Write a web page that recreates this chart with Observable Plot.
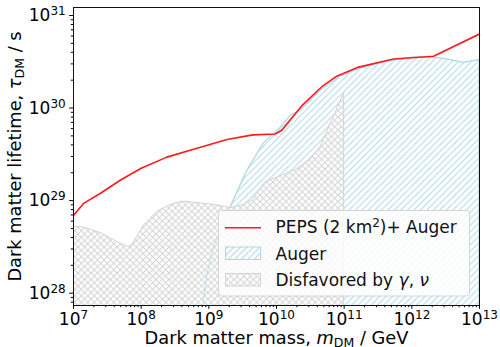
<!DOCTYPE html>
<html><head><meta charset="utf-8">
<script src="https://cdn.jsdelivr.net/npm/d3@7"></script>
<script src="https://cdn.jsdelivr.net/npm/@observablehq/plot@0.6"></script>
<style>
body{margin:0;background:#fff;}
#wrap{position:relative;width:500px;height:347px;font-family:"DejaVu Sans";}
#defs{position:absolute;left:0;top:0;}
#legend{position:absolute;left:0;top:0;pointer-events:none;}
</style></head><body>
<div id="wrap">
<svg id="defs" width="0" height="0">
<defs>
<pattern id="hatchBlue" patternUnits="userSpaceOnUse" width="6.5" height="6.5">
<path d="M-1,7.5 L7.5,-1 M-1,1 L1,-1 M5.5,7.5 L7.5,5.5" stroke="#add8e6" stroke-width="1" fill="none"/>
</pattern>
<pattern id="hatchGray" patternUnits="userSpaceOnUse" width="6.5" height="6.5">
<rect width="6.5" height="6.5" fill="white"/>
<path d="M-1,-1 L7.5,7.5 M-1,7.5 L7.5,-1" stroke="#d3d3d3" stroke-width="1" fill="none"/>
</pattern>
</defs>
</svg>
<div id="chart"></div>
<svg id="legend" width="500" height="347"></svg>
</div>
<script>
// PEPS (2 km^2) + Auger projected lower limit
const pepsMass = [1e7, 1.41e7, 2.51e7, 4.9e7, 1e8, 2.4e8, 6.31e8, 1.86e9, 4.47e9, 9.55e9, 1.2e10, 2.4e10, 4.68e10, 7.59e10, 1.58e11, 5.37e11, 2.09e12, 1e13];
const pepsLife = [6.92e28, 9.33e28, 1.2e29, 1.66e29, 2.24e29, 2.95e29, 3.63e29, 4.57e29, 5.13e29, 5.25e29, 5.75e29, 1.07e30, 1.7e30, 2.19e30, 2.75e30, 3.39e30, 3.63e30, 6.31e30];
// Auger excluded region (upper boundary)
const augerMass = [7.94e8, 9.33e8, 1.17e9, 2.09e9, 3.72e9, 6.46e9, 1.15e10, 1.62e10, 2.24e10, 4.47e10, 8.71e10, 1.74e11, 3.98e11, 1e12, 2.09e12, 3.72e12, 5.75e12, 1e13];
const augerLife = [6.31e27, 1.58e28, 3.16e28, 8.51e28, 2.14e29, 4.17e29, 6.17e29, 8.32e29, 9.33e29, 1.55e30, 2.19e30, 2.69e30, 3.16e30, 3.51e30, 3.55e30, 3.31e30, 3.09e30, 3.31e30];
// Disfavored by gamma, neutrino (upper boundary)
const disfMass = [1e7, 1.41e7, 2.51e7, 4.47e7, 6.46e7, 7.41e7, 8.71e7, 1.1e8, 1.74e8, 2.69e8, 4.07e8, 7.59e8, 1.32e9, 2.09e9, 3.16e9, 4.37e9, 6.92e9, 1.2e10, 1.91e10, 3.16e10, 4.47e10, 5.62e10, 7.59e10, 1e11, 1e11];
const disfLife = [5.25e28, 5.13e28, 4.47e28, 3.55e28, 3.16e28, 3.31e28, 4.07e28, 5.37e28, 7.59e28, 8.91e28, 9.77e28, 9.33e28, 8.91e28, 8.32e28, 8.91e28, 1e29, 1.58e29, 1.86e29, 2.14e29, 2.75e29, 3.8e29, 5.62e29, 9.12e29, 1.45e30, 1e27];

const xTicks = [1e7, 1e8, 1e9, 1e10, 1e11, 1e12, 1e13];
const yTicks = [1e28, 1e29, 1e30, 1e31];
const xLabel = "Dark matter mass, m_DM / GeV";
const yLabel = "Dark matter lifetime, τ_DM / s";
const legendLabels = ["PEPS (2 km^2)+ Auger", "Auger", "Disfavored by γ, ν"];

const xDomain = [1e7, 1e13];
const yDomain = [7.36e27, 1.22e31];
const floor = 1e27;

const peps = pepsMass.map((m, i) => ({m, t: pepsLife[i]}));
const auger = augerMass.map((m, i) => ({m, t: augerLife[i]}));
const disf = disfMass.map((m, i) => ({m, t: disfLife[i]}));

const isPow = v => Math.abs(Math.log10(v) - Math.round(Math.log10(v))) < 1e-6;
const xMinor = d3.scaleLog().domain(xDomain).ticks().filter(v => !isPow(v));
const yMinor = d3.scaleLog().domain(yDomain).ticks().filter(v => !isPow(v));
const powFmt = d => "10^" + Math.round(Math.log10(d));

const plot = Plot.plot({
  width: 500, height: 347,
  marginLeft: 73, marginRight: 21, marginTop: 7, marginBottom: 42,
  style: {fontFamily: "DejaVu Sans", fontSize: "17px", background: "white", overflow: "visible", color: "black"},
  x: {type: "log", domain: xDomain},
  y: {type: "log", domain: yDomain},
  marks: [
    Plot.areaY(auger, {x: "m", y1: floor, y2: "t", fill: "url(#hatchBlue)", stroke: "#add8e6", strokeWidth: 1, clip: true}),
    Plot.areaY(disf, {x: "m", y1: floor, y2: "t", fill: "url(#hatchGray)", stroke: "#d3d3d3", strokeWidth: 1, clip: true}),
    Plot.line(auger, {x: "m", y: "t", stroke: "#add8e6", strokeWidth: 1, strokeOpacity: 0.7, clip: true}),
    Plot.line(peps, {x: "m", y: "t", stroke: "#ff1a1a", strokeWidth: 1.6, clip: true}),
    Plot.frame({stroke: "#111", strokeWidth: 1}),
    Plot.axisX({ticks: xMinor, tickSize: 2.2, tickFormat: () => "", label: null}),
    Plot.axisY({ticks: yMinor, tickSize: 2.2, tickFormat: () => "", label: null}),
    Plot.axisX({ticks: xTicks, tickSize: 3.8, tickPadding: 4, tickFormat: powFmt, label: null}),
    Plot.axisY({ticks: yTicks, tickSize: 3.8, tickPadding: 4, tickFormat: powFmt, label: null}),
    Plot.text([xLabel], {frameAnchor: "bottom", textAnchor: "middle", lineAnchor: "bottom", dy: 38, fontSize: 17.8, text: d => d}),
    Plot.text([yLabel], {frameAnchor: "left", textAnchor: "middle", rotate: -90, dx: -58, fontSize: 17.8, text: d => d})
  ]
});
document.getElementById("chart").appendChild(plot);

// rich text: superscripts / subscripts
d3.select(plot).selectAll("text").each(function() {
  const s = this.textContent;
  const m = s.match(/^10\^(-?\d+)$/);
  if (m) {
    this.innerHTML = `10<tspan dy="-6" font-size="12">${m[1]}</tspan>`;
  } else if (s === xLabel) {
    this.innerHTML = 'Dark matter mass, <tspan font-style="italic">m</tspan><tspan font-size="12.5" dy="3">DM</tspan><tspan dy="-3"> / GeV</tspan>';
  } else if (s === yLabel) {
    this.innerHTML = 'Dark matter lifetime, <tspan font-style="italic">τ</tspan><tspan font-size="12.5" dy="3">DM</tspan><tspan dy="-3"> / s</tspan>';
  }
});

// legend
const lg = d3.select("#legend").style("font-family", "DejaVu Sans").style("font-size", "17px");
lg.append("rect").attr("x", 218.5).attr("y", 210.5).attr("width", 251).attr("height", 85.5).attr("rx", 3)
  .attr("fill", "white").attr("fill-opacity", 0.8).attr("stroke", "#cccccc").attr("stroke-opacity", 0.8);
lg.append("line").attr("x1", 225).attr("x2", 261).attr("y1", 227.7).attr("y2", 227.7).attr("stroke", "#ff1a1a").attr("stroke-width", 1.6);
lg.append("rect").attr("x", 225.5).attr("y", 247).attr("width", 35).attr("height", 12.5).attr("fill", "url(#hatchBlue)").attr("stroke", "#add8e6");
lg.append("rect").attr("x", 225.5).attr("y", 273.5).attr("width", 35).attr("height", 12.5).attr("fill", "url(#hatchGray)").attr("stroke", "#d3d3d3");
const baselines = [233.3, 259.5, 286];
legendLabels.forEach((lab, i) => {
  const t = lg.append("text").attr("x", 275.5).attr("y", baselines[i]).attr("fill", "#111");
  if (i === 0) {
    t.html('PEPS (2 km<tspan dy="-6" font-size="12">2</tspan><tspan dy="6">)+ Auger</tspan>');
  } else if (i === 2) {
    t.html('Disfavored by <tspan font-style="italic">γ</tspan>, <tspan font-style="italic">ν</tspan>');
  } else {
    t.text(lab);
  }
});
</script>
</body></html>
